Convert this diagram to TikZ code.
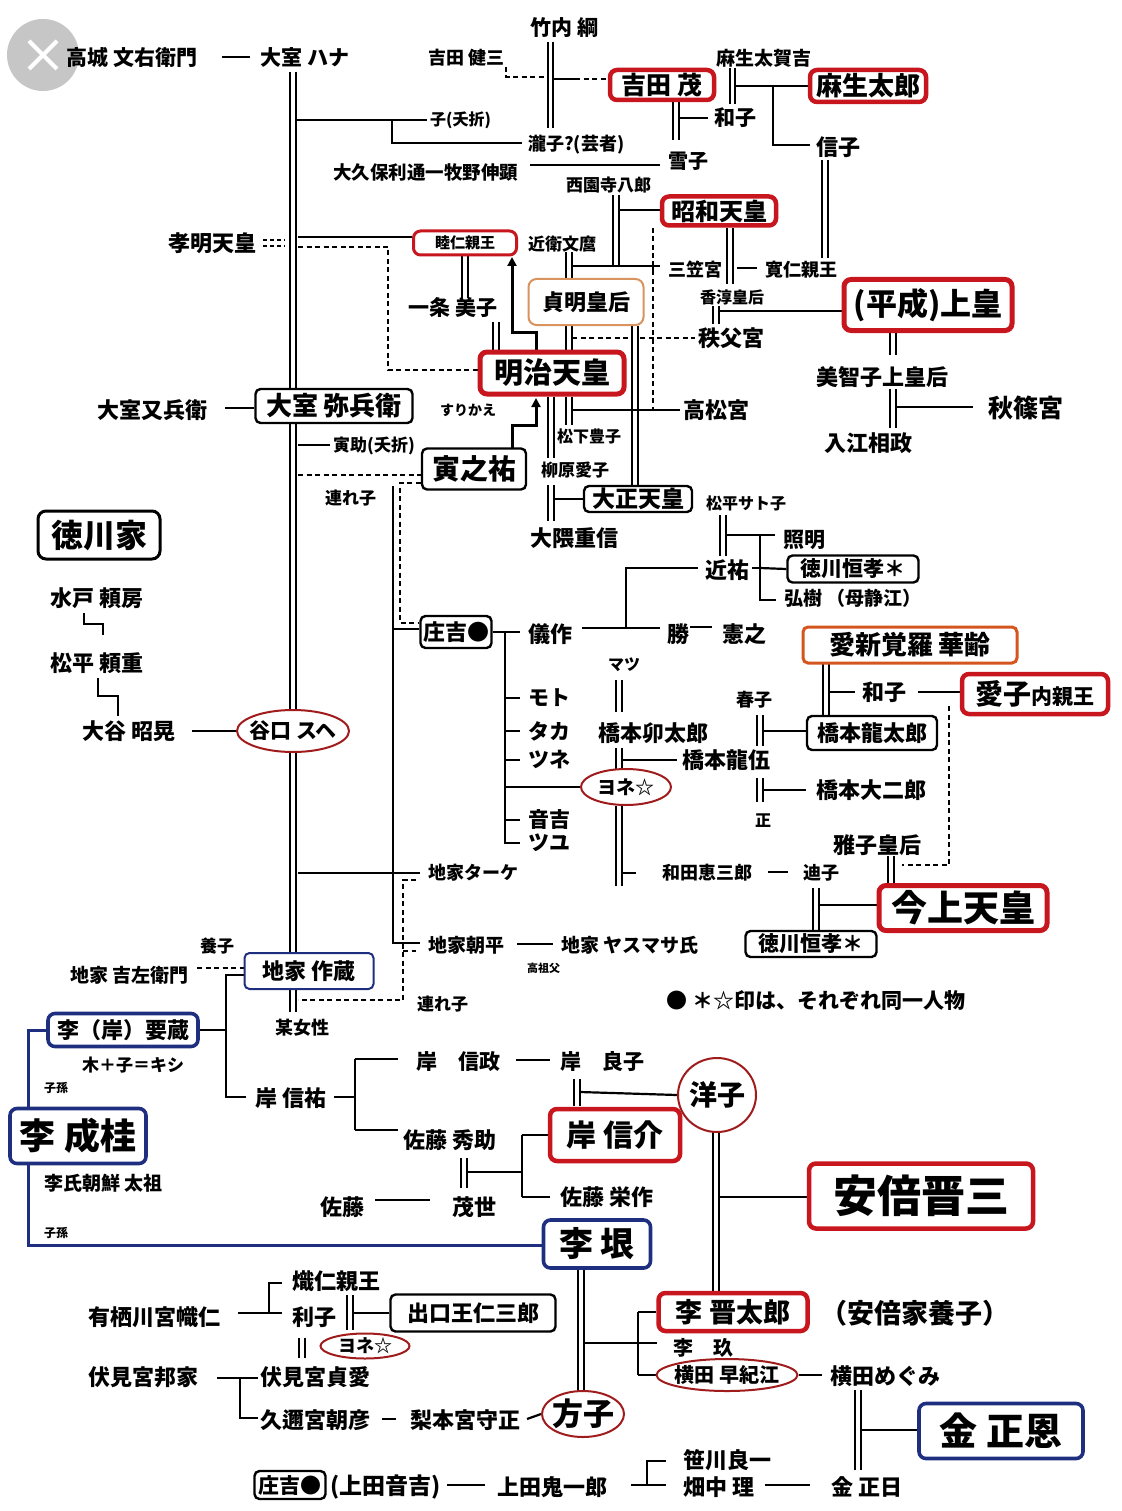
\documentclass[tikz,border=0pt]{standalone}
\usepackage{fontspec}
\setmainfont{Noto Sans CJK JP}
\usetikzlibrary{shapes.geometric,arrows.meta}
\pgfdeclarelayer{paper}
\pgfdeclarelayer{bg}
\pgfsetlayers{paper,bg,main}
\definecolor{bred}{HTML}{C8161E}
\definecolor{ered}{HTML}{A01C1C}
\definecolor{navy}{HTML}{1E2F80}
\definecolor{lorange}{HTML}{D9935F}
\definecolor{dorange}{HTML}{D4561E}
\newcommand\fz[1]{\fontsize{#1pt}{#1pt}\selectfont}
\begin{document}
\begin{tikzpicture}[x=1pt,y=-1pt,
 t/.style={inner sep=0pt,anchor=west,font=\bfseries},
 ct/.style={inner sep=0pt,font=\bfseries},
 ln/.style={line width=2.2pt},
 dl/.style={double=white,double distance=3.8pt,line width=1.9pt},
 dsh/.style={line width=2.2pt,dash pattern=on 5pt off 3.5pt},
 bx/.style={draw,rounded corners=5pt,fill=white,inner sep=0pt,line width=2.4pt,font=\bfseries},
 rbx/.style={bx,draw=bred,line width=4.5pt,rounded corners=7pt},
 nbx/.style={bx,draw=navy,line width=3.6pt,rounded corners=7pt},
 el/.style={ellipse,draw=ered,line width=2pt,fill=white,inner sep=0pt},
 arr/.style={line width=3pt,-{Triangle[length=9pt,width=9pt]}},
 nvl/.style={draw=navy,line width=3pt}]
\begin{pgfonlayer}{paper}
\fill[white] (0,0) rectangle (1121,1511);
\end{pgfonlayer}
\useasboundingbox (0,0) rectangle (1121,1511);

% close button
\fill[gray!45] (43,55) circle[radius=36];
\draw[white,line width=4pt] (29,41)--(57,69) (57,41)--(29,69);

% ---------- text nodes ----------
\node[t] (takagi) at (66,57) {\fz{21}高城 文右衛門};
\node[t] (hana) at (260,57) {\fz{21}大室 ハナ};
\node[t] (kenzo) at (428,58) {\fz{18}吉田 健三};
\node[t] (takeuchi) at (530,28) {\fz{21}竹内 綱};
\node[t] (takakichi) at (716,58) {\fz{19}麻生太賀吉};
\node[t] (kazukoA) at (714,118) {\fz{21}和子};
\node[t] (nobuko) at (816,147) {\fz{22}信子};
\node[t] (yukiko) at (668,161) {\fz{20}雪子};
\node[t] (takiko) at (528,145) {\fz{18}瀧子?(芸者)};
\node[t] (kosetsu) at (430,120) {\fz{16}子(夭折)};
\node[t] (okubo) at (333,172) {\fz{18.5}大久保利通一牧野伸顕};
\node[t] (saionji) at (566,185) {\fz{17}西園寺八郎};
\node[t] (koumei) at (168,243) {\fz{22}孝明天皇};
\node[t] (konoe) at (528,244) {\fz{17}近衛文麿};
\node[t] (mikasa) at (668,270) {\fz{18}三笠宮};
\node[t] (tomohito) at (765,270) {\fz{18}寛仁親王};
\node[t] (kojun) at (700,297) {\fz{16}香淳皇后};
\node[t] (chichibu) at (698,338) {\fz{22}秩父宮};
\node[t] (michiko) at (816,377) {\fz{22}美智子上皇后};
\node[t] (akishino) at (988,408) {\fz{25}秋篠宮};
\node[t] (irie) at (824,443) {\fz{22}入江相政};
\node[t] (takamatsu) at (683,410) {\fz{22}高松宮};
\node[t] (ichijo) at (408,308) {\fz{21}一条 美子};
\node[t] (matsushita) at (557,436) {\fz{16}松下豊子};
\node[t] (yanagi) at (541,470) {\fz{17}柳原愛子};
\node[t] (okuma) at (530,538) {\fz{22}大隈重信};
\node[t] (surikae) at (440,410) {\fz{14}すりかえ};
\node[t] (matabei) at (97,410) {\fz{22}大室又兵衛};
\node[t] (torasuke) at (333,446) {\fz{17}寅助(夭折)};
\node[t] (tsurekoA) at (325,498) {\fz{17}連れ子};
\node[t] (satoko) at (706,503) {\fz{16}松平サト子};
\node[t] (teruaki) at (783,540) {\fz{21}照明};
\node[t] (chikasuke) at (705,570) {\fz{22}近祐};
\node[t] (hiroki) at (784,598) {\fz{19}弘樹 （母静江）};
\node[t] (gisaku) at (528,634) {\fz{22}儀作};
\node[t] (katsu) at (667,634) {\fz{22}勝};
\node[t] (noriyuki) at (722,634) {\fz{22}憲之};
\node[t] (moto) at (528,698) {\fz{21}モト};
\node[t] (taka) at (528,731) {\fz{21}タカ};
\node[t] (tsune) at (528,760) {\fz{21}ツネ};
\node[t] (otokichi) at (528,820) {\fz{21}音吉};
\node[t] (tsuyu) at (528,843) {\fz{21}ツユ};
\node[t] (matsu) at (608,665) {\fz{16}マツ};
\node[t] (utaro) at (598,733) {\fz{22}橋本卯太郎};
\node[t] (ryugo) at (682,760) {\fz{22}橋本龍伍};
\node[t] (haruko) at (736,700) {\fz{18}春子};
\node[t] (daijiro) at (816,790) {\fz{22}橋本大二郎};
\node[t] (tadashi) at (755,821) {\fz{16}正};
\node[t] (masako) at (833,845) {\fz{22}雅子皇后};
\node[t] (wada) at (662,873) {\fz{18}和田恵三郎};
\node[t] (michikoB) at (803,873) {\fz{18}迪子};
\node[t] (kazukoB) at (862,692) {\fz{22}和子};
\node[t] (notice) at (666,1001) {\fz{21}● ＊☆印は、それぞれ同一人物};
\node[t] (taake) at (428,873) {\fz{18}地家ターケ};
\node[t] (asahei) at (428,945) {\fz{19}地家朝平};
\node[t] (yasumasa) at (561,945) {\fz{19}地家 ヤスマサ氏};
\node[t] (kosofu) at (527,968) {\fz{11}高祖父};
\node[t] (yoshi) at (200,946) {\fz{17}養子};
\node[t] (kichizaemon) at (70,975) {\fz{19}地家 吉左衛門};
\node[t] (bojosei) at (275,1028) {\fz{18}某女性};
\node[t] (tsurekoB) at (417,1004) {\fz{17}連れ子};
\node[t] (kiplus) at (82,1065) {\fz{17}木＋子＝キシ};
\node[t] (shisonA) at (44,1088) {\fz{12}子孫};
\node[t] (taiso) at (44,1183) {\fz{19}李氏朝鮮 太祖};
\node[t] (shisonB) at (44,1233) {\fz{12}子孫};
\node[t] (nobusukeK) at (255,1098) {\fz{22}岸 信祐};
\node[t] (nobumasa) at (416,1062) {\fz{21}岸\hspace{21pt}信政};
\node[t] (yoshikoK) at (560,1062) {\fz{21}岸\hspace{21pt}良子};
\node[t] (hidesuke) at (403,1140) {\fz{22}佐藤 秀助};
\node[t] (eisaku) at (560,1197) {\fz{22}佐藤 栄作};
\node[t] (sato) at (320,1207) {\fz{22}佐藤};
\node[t] (moyo) at (452,1207) {\fz{22}茂世};
\node[t] (abeyoshi) at (820,1313) {\fz{27}（安倍家養子）};
\node[t] (rikyu) at (673,1348) {\fz{20}李\hspace{20pt}玖};
\node[t] (megumi) at (830,1376) {\fz{22}横田めぐみ};
\node[t] (jongil) at (831,1487) {\fz{22}金 正日};
\node[t] (sasakawa) at (683,1460) {\fz{22}笹川良一};
\node[t] (hatanaka) at (683,1487) {\fz{22}畑中 理};
\node[t] (kiichiro) at (497,1487) {\fz{22}上田鬼一郎};
\node[t] (ueda) at (330,1487) {\fz{23}(上田音吉)};
\node[t] (arisu) at (88,1317) {\fz{22}有栖川宮幟仁};
\node[t] (taruhito) at (292,1281) {\fz{22}熾仁親王};
\node[t] (toshiko) at (292,1317) {\fz{22}利子};
\node[t] (kuniie) at (88,1377) {\fz{22}伏見宮邦家};
\node[t] (sadanaru) at (260,1377) {\fz{22}伏見宮貞愛};
\node[t] (asahiko) at (260,1420) {\fz{22}久邇宮朝彦};
\node[t] (morimasa) at (410,1420) {\fz{22}梨本宮守正};
\node[t] (mito) at (50,598) {\fz{22}水戸 頼房};
\node[t] (yorishige) at (50,663) {\fz{22}松平 頼重};
\node[t] (otani) at (82,731) {\fz{22}大谷 昭晃};

% ---------- boxes ----------
\node[rbx,minimum width=104pt,minimum height=30pt] (yoshida) at (662,85) {\fz{25}吉田 茂};
\node[rbx,minimum width=116pt,minimum height=32pt] (aso) at (868,86) {\fz{26}麻生太郎};
\node[rbx,minimum width=114pt,minimum height=29pt] (showa) at (719,211) {\fz{24}昭和天皇};
\node[rbx,line width=3pt,minimum width=103pt,minimum height=24pt] (mutsu) at (465,243) {\fz{15}睦仁親王};
\node[bx,draw=lorange,line width=2pt,rounded corners=8pt,minimum width=115pt,minimum height=46pt] (teimei) at (586,302) {\fz{22}貞明皇后};
\node[rbx,line width=5pt,minimum width=168pt,minimum height=51pt] (heisei) at (928,305) {\fz{31}(平成)上皇};
\node[rbx,line width=5pt,minimum width=144pt,minimum height=42pt] (meiji) at (552,373) {\fz{29}明治天皇};
\node[bx,minimum width=108pt,minimum height=26pt] (taisho) at (638,499) {\fz{23}大正天皇};
\node[bx,minimum width=104pt,minimum height=41pt] (tora) at (474,469) {\fz{28}寅之祐};
\node[bx,minimum width=157pt,minimum height=34pt] (yahee) at (334,406) {\fz{26}大室 弥兵衛};
\node[bx,line width=3pt,rounded corners=8pt,minimum width=122pt,minimum height=48pt] (tokuke) at (99,535) {\fz{32}徳川家};
\node[bx,minimum width=71pt,minimum height=32pt] (shokichi) at (456,632) {\fz{22}庄吉●};
\node[bx,minimum width=131pt,minimum height=27pt] (tokuA) at (853,569) {\fz{21}徳川恒孝＊};
\node[bx,draw=dorange,line width=3pt,minimum width=214pt,minimum height=36pt] (aishin) at (910,645) {\fz{26}愛新覚羅 華齢};
\node[rbx,minimum width=146pt,minimum height=40pt] (aiko) at (1035,694) {{\fz{28}愛子}{\fz{21}内親王}};
\node[bx,minimum width=130pt,minimum height=34pt] (ryutaro) at (872,733) {\fz{22}橋本龍太郎};
\node[rbx,line width=5pt,minimum width=168pt,minimum height=45pt] (kinjo) at (963,908) {\fz{36}今上天皇};
\node[bx,minimum width=131pt,minimum height=26pt] (tokuB) at (811,944) {\fz{21}徳川恒孝＊};
\node[bx,draw=navy,line width=2pt,minimum width=129pt,minimum height=36pt] (sakuzo) at (309,971) {\fz{22}地家 作蔵};
\node[nbx,minimum width=150pt,minimum height=33pt] (yozo) at (123,1030) {\fz{22}李（岸）要蔵};
\node[nbx,minimum width=136pt,minimum height=55pt] (seikei) at (78,1136) {\fz{36}李 成桂};
\node[rbx,minimum width=130pt,minimum height=52pt] (nobusuke) at (615,1135) {\fz{30}岸 信介};
\node[rbx,minimum width=224pt,minimum height=65pt] (abe) at (921,1196) {\fz{44}安倍晋三};
\node[nbx,minimum width=107pt,minimum height=48pt] (gin) at (597,1244) {\fz{34}李 垠};
\node[rbx,minimum width=149pt,minimum height=38pt] (shintaro) at (733,1312) {\fz{27}李 晋太郎};
\node[nbx,minimum width=164pt,minimum height=55pt] (jongun) at (1001,1431) {\fz{38}金 正恩};
\node[bx,minimum width=165pt,minimum height=37pt] (deguchi) at (473,1313) {\fz{22}出口王仁三郎};
\node[bx,minimum width=71pt,minimum height=28pt] (shokichiB) at (290,1485) {\fz{21}庄吉●};

% ---------- ellipses ----------
\node[el,minimum width=112pt,minimum height=42pt] (tani) at (293,731) {};
\node[ct] (taniT) at (tani.center) {\fz{21}谷口 スヘ};
\node[el,minimum width=90pt,minimum height=36pt] (yoneA) at (626,787) {};
\node[ct] (yoneAT) at (yoneA.center) {\fz{19}ヨネ☆};
\node[el,minimum width=78pt,minimum height=74pt] (yoko) at (717,1095) {};
\node[ct] (yokoT) at (yoko.center) {\fz{28}洋子};
\node[el,minimum width=141pt,minimum height=32pt] (yokota) at (727,1375) {};
\node[ct] (yokotaT) at (yokota.center) {\fz{20}横田 早紀江};
\node[el,minimum width=89pt,minimum height=25pt] (yoneB) at (365,1346) {};
\node[ct] (yoneBT) at (yoneB.center) {\fz{18}ヨネ☆};
\node[el,minimum width=82pt,minimum height=46pt] (masakoE) at (583,1414) {};
\node[ct] (masakoT) at (masakoE.center) {\fz{31}方子};

% ---------- connectors ----------
\begin{pgfonlayer}{bg}
\begin{scope}[ln]
% top
\draw (222,57)--(250,57);
\draw[dl] (293,72)--(293,1012);
\draw[dl] (550.5,42)--(550.5,128);
\draw[dsh] (506,67)--(506,77)--(547,77);
\draw (553,79)--(575,79);
\draw[dsh] (575,79)--(yoshida.west |- 0,79);
\draw[dl] (732.5,68)--(732.5,104);
\draw (735,86)--(aso.west);
\draw (773,86)--(773,145)--(810,145);
\draw[dl] (825,160)--(825,258);
\draw[dl] (676,102)--(676,140);
\draw (679,118)--(708,118);
\draw (530,165)--(660,165);
\draw (296,120)--(427,120);
\draw (392,120)--(392,143)--(522,143);
\draw[dl] (616,195)--(616,266);
\draw (619,210)--(showa.west |- 0,210);
\draw[dl] (730,228)--(730,284);
\draw (737,268)--(757,268);
\draw[dl] (716,306)--(716,324);
\draw (718,311)--(heisei.west |- 0,311);
\draw[dl] (569,252)--(569,280);
\draw (572,266)--(660,266);
\draw (653,261)--(653,271);
\draw[dsh] (653,228)--(653,410);
\draw[dl] (569,326)--(569,350);
\draw[dsh] (572,338)--(695,338);
\draw[dl] (635,326)--(635,485);
\draw[dl] (465,256)--(465,298);
\draw[dl] (496,322)--(496,350);
\draw[dsh] (298,247)--(388,247)--(388,370)--(meiji.west |- 0,370);
\draw (298,237)--(mutsu.west |- 0,237);
\draw[line width=1.6pt,dash pattern=on 4pt off 3pt] (263,240)--(285,240) (263,246)--(285,246);
\draw[dl] (551,397)--(551,458);
\draw[dl] (551,485)--(551,521);
\draw (554,499)--(taisho.west);
\draw[dl] (569,397)--(569,425);
\draw (572,410)--(680,410);
\draw (225,408)--(yahee.west |- 0,408);
\draw (298,445)--(330,445);
\draw[dsh] (298,475)--(tora.west |- 0,475);
\draw[dsh] (tora.west |- 0,483)--(400,483)--(400,623)--(shokichi.west |- 0,623);
\draw (393,486)--(393,943)--(420,943);
\draw (393,629)--(shokichi.west |- 0,629);
\draw (298,873)--(420,873);
\draw[dsh] (416,880)--(403,880)--(403,1000)--(298,1000);
\draw[dsh] (403,951)--(416,951);
\draw (517,944)--(553,944);
\draw (192,731)--(tani.west);
\draw (84,613)--(84,624)--(103,624)--(103,635);
\draw (98,678)--(98,696)--(118,696)--(118,716);
% shokichi family
\draw (shokichi.east)--(520,632);
\draw (505,632)--(505,843)--(520,843);
\draw (505,698)--(520,698) (505,731)--(520,731) (505,760)--(520,760) (505,820)--(520,820);
\draw (505,787)--(yoneA.west);
\draw (582,628)--(660,628);
\draw (626,628)--(626,568)--(698,568);
\draw (690,627)--(712,627);
\draw[dl] (723,515)--(723,556);
\draw (726,535)--(775,535);
\draw (752,568)--(760,568);
\draw (760,535)--(760,600)--(776,600);
\draw (760,568)--(tokuA.west);
\draw[dl] (619,680)--(619,712);
\draw[dl] (619,748)--(619,769);
\draw (622,760)--(677,760);
\draw[dl] (619,806)--(619,886);
\draw (622,873)--(636,873);
\draw (768,872)--(788,872);
\draw[dl] (816,888)--(816,930);
\draw (819,905)--(kinjo.west |- 0,905);
\draw[dl] (760,715)--(760,746);
\draw (763,731)--(ryutaro.west |- 0,731);
\draw[dl] (760,778)--(760,802);
\draw (763,790)--(806,790);
\draw[dl] (826,664)--(826,715);
\draw (829,692)--(855,692);
\draw (918,692)--(aiko.west |- 0,692);
\draw[dsh] (949,706)--(949,865)--(902,865);
\draw[dl] (891,856)--(891,884);
\draw[dl] (893,333)--(893,355);
\draw[dl] (893,389)--(893,428);
\draw (896,407)--(973,407);
% lower left
\draw[dsh] (197,968)--(sakuzo.west |- 0,968);
\draw (sakuzo.west |- 0,975)--(226,975)--(226,1097)--(246,1097);
\draw (yozo.east)--(226,1030);
\draw[nvl] (yozo.west)--(28,1030)--(seikei.north -| 28,0);
\draw[nvl] (seikei.south -| 28,0)--(28,1245)--(gin.west |- 0,1245);
\draw (334,1097)--(355,1097);
\draw (355,1059)--(355,1130);
\draw (355,1059)--(398,1059) (355,1130)--(398,1130);
\draw (516,1060)--(550,1060);
\draw[dl] (577,1079)--(577,1106);
\draw (580,1092)--(yoko.west);
\draw[dl] (464,1158)--(464,1188);
\draw (467,1172)--(522,1172);
\draw (522,1135)--(522,1197);
\draw (522,1135)--(nobusuke.west);
\draw (522,1197)--(550,1197);
\draw (375,1200)--(430,1200);
\draw[dl] (716,1132)--(716,1292);
\draw (719,1197)--(abe.west |- 0,1197);
\draw[dl] (581,1270)--(581,1391);
\draw (584,1343)--(638,1343);
\draw (638,1312)--(638,1375);
\draw (638,1312)--(shintaro.west);
\draw (638,1343)--(657,1343);
\draw (638,1375)--(yokota.west);
\draw (yokota.east)--(822,1375);
\draw[dl] (858,1390)--(858,1470);
\draw (861,1430)--(jongun.west |- 0,1430);
\draw (765,1485)--(810,1485);
\draw (631,1485)--(666,1485);
\draw (647,1485)--(647,1461)--(666,1461);
\draw (447,1485)--(485,1485);
\draw (238,1313)--(282,1313);
\draw (269,1313)--(269,1283)--(282,1283);
\draw[dl] (350,1295)--(350,1330);
\draw (353,1313)--(deguchi.west);
\draw[dl] (302,1338)--(302,1358);
\draw (217,1378)--(258,1378);
\draw (240,1378)--(240,1418)--(258,1418);
\draw (382,1419)--(396,1419);
\draw (527,1419)--(masakoE.west);
% arrows
\draw[arr] (536,351)--(536,332)--(512,332)--(512,257);
\draw[arr] (512,448)--(512,425)--(536,425)--(536,398);
\end{scope}
\end{pgfonlayer}
\end{tikzpicture}
\end{document}
